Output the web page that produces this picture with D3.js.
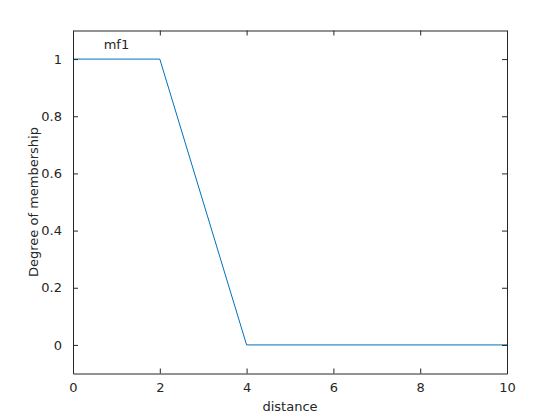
<!DOCTYPE html>
<html><head><meta charset="utf-8">
<script src="https://cdn.jsdelivr.net/npm/d3@7"></script>
<style>body{margin:0;background:#fff;} svg{display:block;}</style>
</head><body>
<script>
const xs = [0, 2, 4, 10];
const ys = [1, 1, 0, 0];
const xTicks = [0, 2, 4, 6, 8, 10];
const yTicks = [0, 0.2, 0.4, 0.6, 0.8, 1];
const mfLabel = "mf1";
const mfLabelPos = [1, 1.05];

const W = 560, H = 420;
const L = 73, R = 507, T = 30.5, B = 373.5;
const svg = d3.select("body").append("svg").attr("width", W).attr("height", H);
const x = d3.scaleLinear().domain([0, 10]).range([L, R]);
const y = d3.scaleLinear().domain([-0.1, 1.1]).range([B, T]);
const font = "DejaVu Sans, sans-serif";
const col = "#262626";

// line
svg.append("path")
  .datum(xs.map((v, i) => [v, ys[i]]))
  .attr("fill", "none").attr("stroke", "#0072BD").attr("stroke-width", 1)
  .attr("d", d3.line().x(d => x(d[0])).y(d => y(d[1])));

// axes
const ax = (g, axis) => { g.call(axis); g.select(".domain").attr("stroke", col); g.selectAll("line").attr("stroke", col); g.selectAll("text").attr("fill", col).attr("font-family", font).attr("font-size", 13); };
svg.append("g").attr("transform", `translate(0,${B})`)
  .call(g => ax(g, d3.axisBottom(x).tickValues(xTicks).tickSize(-5).tickPadding(9).tickSizeOuter(0).tickFormat(d3.format("d"))));
svg.append("g").attr("transform", `translate(0,${T})`)
  .call(g => ax(g, d3.axisTop(x).tickValues(xTicks).tickSize(-5).tickSizeOuter(0).tickFormat("")));
svg.append("g").attr("transform", `translate(${L},0)`)
  .call(g => ax(g, d3.axisLeft(y).tickValues(yTicks).tickSize(-5).tickPadding(11).tickSizeOuter(0).tickFormat(d => d === 0 || d === 1 ? d3.format("d")(d) : d3.format(".1f")(d))));
svg.append("g").attr("transform", `translate(${R},0)`)
  .call(g => ax(g, d3.axisRight(y).tickValues(yTicks).tickSize(-5).tickSizeOuter(0).tickFormat("")));

// mf label
svg.append("text").attr("x", x(mfLabelPos[0])).attr("y", y(mfLabelPos[1]))
  .attr("text-anchor", "middle").attr("dominant-baseline", "central")
  .attr("font-family", font).attr("font-size", 13).attr("fill", col).text(mfLabel);

// axis labels
svg.append("text").attr("x", (L + R) / 2).attr("y", 411)
  .attr("text-anchor", "middle").attr("font-family", font).attr("font-size", 13).attr("fill", col).text("distance");
svg.append("text").attr("transform", `translate(38,${(T + B) / 2}) rotate(-90)`)
  .attr("text-anchor", "middle").attr("font-family", font).attr("font-size", 13).attr("fill", col).text("Degree of membership");
</script>
</body></html>
